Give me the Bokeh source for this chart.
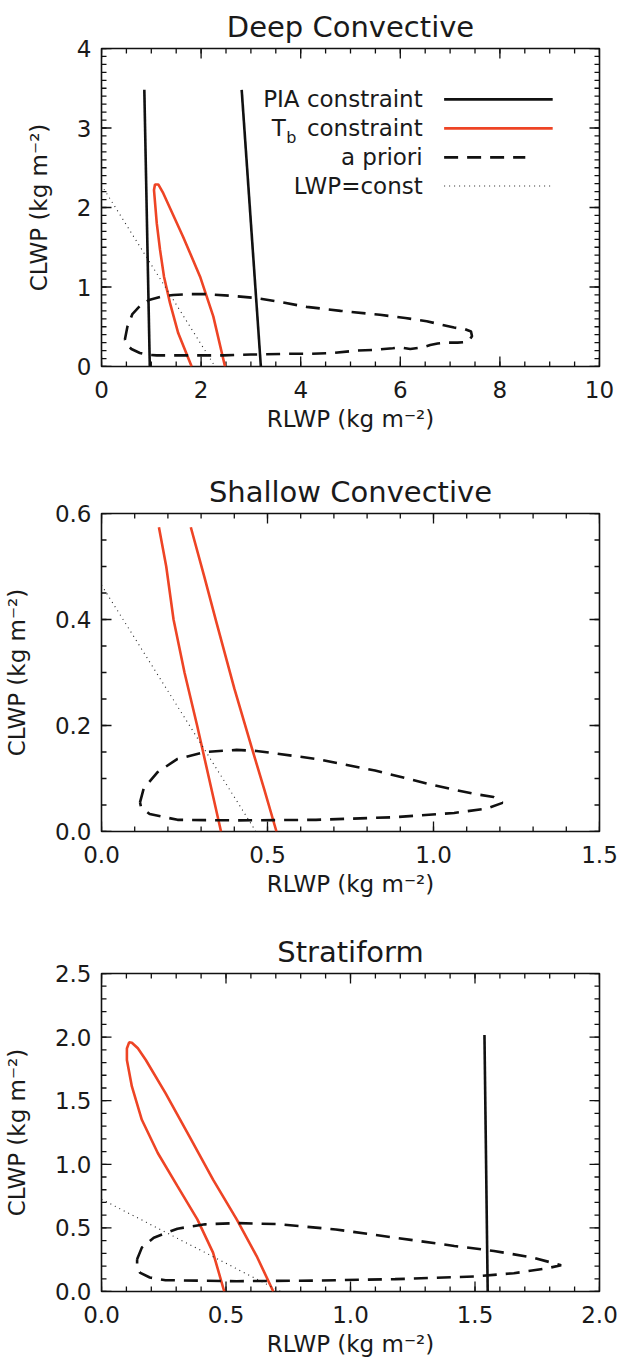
import numpy as np
from bokeh.plotting import figure
from bokeh.layouts import column
from bokeh.models import Range1d, FixedTicker, PrintfTickFormatter, Label
from bokeh.embed import file_html
from bokeh.resources import INLINE

# ---------------- data ----------------
# Panel 1: Deep Convective
deep_pia1_x = [0.86, 0.97]
deep_pia1_y = [3.48, 0.0]
deep_pia2_x = [2.815, 3.20]
deep_pia2_y = [3.48, 0.0]
deep_tb_x = [1.81, 1.54, 1.375, 1.255, 1.175, 1.11, 1.054, 1.074, 1.14, 1.24, 1.64, 1.98, 2.245, 2.48]
deep_tb_y = [0.0, 0.42, 0.80, 1.13, 1.47, 1.80, 2.22, 2.29, 2.29, 2.18, 1.63, 1.13, 0.63, 0.0]
deep_lwp_x = [0.05, 2.28]
deep_lwp_y = [2.23, 0.0]
deep_ap_x = [0.47, 0.52, 0.62, 0.80, 0.97, 1.20, 1.44, 1.80, 2.11, 2.60, 3.12, 3.60, 4.12, 4.80,
             5.59, 6.10, 6.53, 6.80, 7.08, 7.30, 7.42, 7.44, 7.36, 7.15, 6.95, 6.75, 6.60,
             6.45, 6.20, 6.00, 5.85, 5.50, 5.12, 4.65, 4.20, 3.78, 3.00, 2.45, 1.80, 1.11, 0.90,
             0.77, 0.60, 0.50, 0.47]
deep_ap_y = [0.34, 0.50, 0.66, 0.78, 0.84, 0.88, 0.90, 0.91, 0.91, 0.89, 0.86, 0.81, 0.75, 0.70,
             0.65, 0.61, 0.57, 0.53, 0.49, 0.47, 0.44, 0.38, 0.31, 0.30, 0.30, 0.29, 0.27,
             0.24, 0.22, 0.24, 0.23, 0.21, 0.20, 0.17, 0.16, 0.16, 0.15, 0.14, 0.14, 0.14, 0.15,
             0.17, 0.22, 0.28, 0.34]

# Panel 2: Shallow Convective
sh_tb1_x = [0.173, 0.195, 0.217, 0.250, 0.288, 0.324, 0.360]
sh_tb1_y = [0.574, 0.500, 0.400, 0.300, 0.200, 0.100, 0.0]
sh_tb2_x = [0.269, 0.310, 0.346, 0.400, 0.455, 0.490, 0.527]
sh_tb2_y = [0.574, 0.480, 0.395, 0.270, 0.153, 0.080, 0.0]
sh_lwp_x = [0.0, 0.465]
sh_lwp_y = [0.465, 0.0]
sh_ap_x = [0.116, 0.127, 0.169, 0.229, 0.312, 0.407, 0.467, 0.646, 0.824, 1.003, 1.122, 1.181,
           1.208, 1.158, 1.062, 0.884, 0.646, 0.407, 0.229, 0.145, 0.119, 0.116]
sh_ap_y = [0.055, 0.081, 0.112, 0.137, 0.150, 0.154, 0.152, 0.137, 0.115, 0.087, 0.071, 0.065,
           0.054, 0.043, 0.035, 0.027, 0.022, 0.021, 0.022, 0.033, 0.046, 0.055]

# Panel 3: Stratiform
st_pia_x = [1.538, 1.551]
st_pia_y = [2.016, 0.0]
st_tb_x = [0.493, 0.448, 0.385, 0.305, 0.226, 0.162, 0.122, 0.102, 0.102, 0.111, 0.122, 0.146,
           0.178, 0.257, 0.353, 0.448, 0.543, 0.623, 0.690]
st_tb_y = [0.0, 0.306, 0.567, 0.828, 1.089, 1.350, 1.612, 1.82, 1.91, 1.959, 1.956, 1.912,
           1.82, 1.559, 1.22, 0.880, 0.567, 0.279, 0.0]
st_lwp_x = [0.0, 0.72]
st_lwp_y = [0.725, 0.0]
st_ap_x = [0.143, 0.162, 0.210, 0.305, 0.416, 0.543, 0.702, 0.941, 1.179, 1.417, 1.576, 1.735,
           1.846, 1.783, 1.656, 1.497, 1.179, 0.861, 0.543, 0.257, 0.194, 0.154, 0.143, 0.143]
st_ap_y = [0.253, 0.345, 0.423, 0.494, 0.528, 0.538, 0.530, 0.488, 0.423, 0.358, 0.319, 0.266,
           0.206, 0.180, 0.144, 0.118, 0.097, 0.086, 0.081, 0.089, 0.110, 0.149, 0.201, 0.253]

# ticks
deep_xticks = [0, 2, 4, 6, 8, 10]
deep_yticks = [0, 1, 2, 3, 4]
sh_xticks = [0.0, 0.5, 1.0, 1.5]
sh_yticks = [0.0, 0.2, 0.4, 0.6]
st_xticks = [0.0, 0.5, 1.0, 1.5, 2.0]
st_yticks = [0.0, 0.5, 1.0, 1.5, 2.0, 2.5]

legend_labels = ["PIA constraint", "constraint", "a priori", "LWP=const"]

# ---------------- style ----------------
FONT = "DejaVu Sans"
RED = "#EE4425"
INK = "#111111"
TXT = "#1a1a1a"
XLABEL = "RLWP (kg m\u207b\u00b2)"
YLABEL = "CLWP (kg m\u207b\u00b2)"


def minor(lo, hi, step):
    return [round(float(v), 4) for v in np.arange(lo, hi + step / 2, step)]


def style_axis(ax, ticker, fmt):
    ax.ticker = ticker
    ax.formatter = PrintfTickFormatter(format=fmt)
    ax.major_tick_in = 0
    ax.major_tick_out = 0
    ax.minor_tick_in = 0
    ax.minor_tick_out = 0
    ax.axis_line_color = None
    ax.major_tick_line_color = None
    ax.minor_tick_line_color = None
    ax.major_label_text_font = FONT
    ax.major_label_text_font_size = "23px"
    ax.major_label_text_color = TXT
    ax.axis_label_text_font = FONT
    ax.axis_label_text_font_size = "23px"
    ax.axis_label_text_font_style = "normal"
    ax.axis_label_text_color = TXT


def box_ticks(p, xr, yr, xt, xminor, yt, yminor):
    # inward tick marks on all four sides, half of each centred marker is clipped by the frame
    for ticks, size in ((xt, 20), (xminor, 10)):
        n = len(ticks)
        p.scatter(list(ticks) * 2, [yr[0]] * n + [yr[1]] * n, marker="dash", size=size,
                  angle=np.pi / 2, line_color=INK, line_width=1.3)
    for ticks, size in ((yt, 20), (yminor, 10)):
        n = len(ticks)
        p.scatter([xr[0]] * n + [xr[1]] * n, list(ticks) * 2, marker="dash", size=size,
                  line_color=INK, line_width=1.3)


def make_fig(title, height, bottom, xr, yr, xt, xminor, yt, yminor, xfmt, yfmt):
    p = figure(width=619, height=height, x_range=Range1d(*xr), y_range=Range1d(*yr),
               output_backend="svg", toolbar_location=None,
               min_border_left=101, min_border_right=20, min_border_top=48,
               min_border_bottom=bottom, x_axis_label=XLABEL, y_axis_label=YLABEL)
    p.title.text = title
    p.title.align = "center"
    p.title.text_font = FONT
    p.title.text_font_size = "29px"
    p.title.text_font_style = "normal"
    p.title.text_color = TXT
    p.xgrid.visible = False
    p.ygrid.visible = False
    p.outline_line_color = INK
    p.outline_line_width = 1.6
    style_axis(p.xaxis[0], FixedTicker(ticks=xt, minor_ticks=[]), xfmt)
    style_axis(p.yaxis[0], FixedTicker(ticks=yt, minor_ticks=[]), yfmt)
    p.xaxis[0].major_label_standoff = 14
    p.xaxis[0].axis_label_standoff = 5
    p.yaxis[0].major_label_standoff = 10
    p.yaxis[0].axis_label_standoff = 22
    box_ticks(p, xr, yr, xt, xminor, yt, yminor)
    return p


def solid(p, x, y, color):
    p.line(x, y, line_color=color, line_width=2.6)


def dashed(p, x, y):
    p.line(x, y, line_color=INK, line_width=2.6, line_dash="14 9")


def dotted(p, x, y):
    p.line(x, y, line_color="#222222", line_width=1.1, line_dash="1 4")


# ---------------- panel 1 ----------------
p1 = make_fig("Deep Convective", 465, 99, (0, 10), (0, 4), deep_xticks, minor(0, 10, 0.5),
              deep_yticks, minor(0, 4, 0.1), "%d", "%d")
solid(p1, deep_pia1_x, deep_pia1_y, INK)
solid(p1, deep_pia2_x, deep_pia2_y, INK)
solid(p1, deep_tb_x, deep_tb_y, RED)
dashed(p1, deep_ap_x, deep_ap_y)
dotted(p1, deep_lwp_x, deep_lwp_y)

# legend (layout positions in panel-1 data units)
LEG_TX = 6.45
LEG_X0, LEG_X1 = 6.88, 9.06
LEG_ROWS = [3.36, 2.995, 2.63, 2.27]
for lab, yy in zip(legend_labels, LEG_ROWS):
    p1.add_layout(Label(x=LEG_TX, y=yy, text=lab, text_align="right", text_baseline="middle",
                        text_font=FONT, text_font_size="23px", text_color=TXT))
p1.add_layout(Label(x=3.70, y=LEG_ROWS[1], text="T", text_align="right", text_baseline="middle",
                    text_font=FONT, text_font_size="23px", text_color=TXT))
p1.add_layout(Label(x=3.71, y=LEG_ROWS[1] - 0.11, text="b", text_align="left",
                    text_baseline="middle", text_font=FONT, text_font_size="16px",
                    text_color=TXT))
solid(p1, [LEG_X0, LEG_X1], [LEG_ROWS[0]] * 2, INK)
solid(p1, [LEG_X0, LEG_X1], [LEG_ROWS[1]] * 2, RED)
dashed(p1, [LEG_X0, LEG_X1 - 0.55], [LEG_ROWS[2]] * 2)
dotted(p1, [LEG_X0, LEG_X1], [LEG_ROWS[3]] * 2)

# ---------------- panel 2 ----------------
p2 = make_fig("Shallow Convective", 460, 94, (0, 1.5), (0, 0.6), sh_xticks, minor(0, 1.5, 0.1),
              sh_yticks, minor(0, 0.6, 0.05), "%.1f", "%.1f")
solid(p2, sh_tb1_x, sh_tb1_y, RED)
solid(p2, sh_tb2_x, sh_tb2_y, RED)
dashed(p2, sh_ap_x, sh_ap_y)
dotted(p2, sh_lwp_x, sh_lwp_y)

# ---------------- panel 3 ----------------
p3 = make_fig("Stratiform", 442, 76, (0, 2.0), (0, 2.5), st_xticks, minor(0, 2.0, 0.1),
              st_yticks, minor(0, 2.5, 0.1), "%.1f", "%.1f")
solid(p3, st_pia_x, st_pia_y, INK)
solid(p3, st_tb_x, st_tb_y, RED)
dashed(p3, st_ap_x, st_ap_y)
dotted(p3, st_lwp_x, st_lwp_y)

layout = column(p1, p2, p3, spacing=0)
open("out.html", "w").write(file_html(layout, INLINE))
